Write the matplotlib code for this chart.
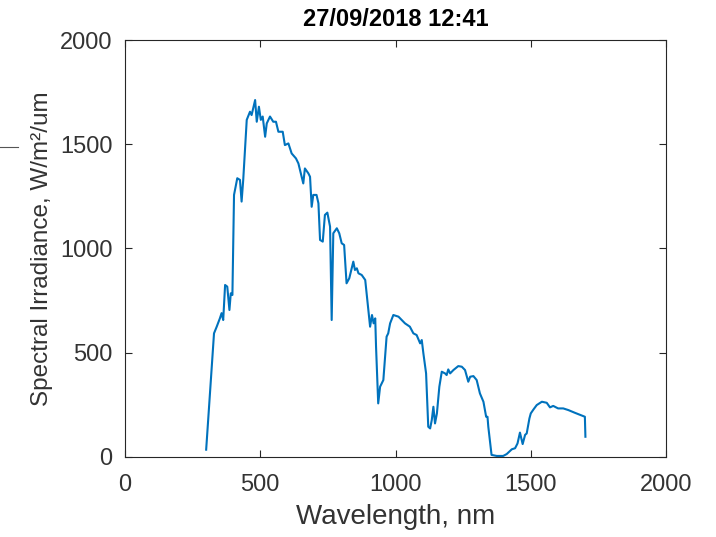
import matplotlib
matplotlib.use("Agg")
import matplotlib.pyplot as plt
from matplotlib.lines import Line2D

# Spectrum (wavelength in nm, irradiance in W/m2/um)
wavelength = [300, 329, 339, 351, 357, 363, 370, 378, 386, 391, 397, 403, 415, 425, 431, 437,
              450, 462, 468, 481, 487, 495, 502, 509, 518, 524, 536, 548, 558, 567, 583, 591,
              604, 616, 632, 641, 647, 659, 665, 678, 684, 690, 696, 708, 715, 721, 731, 739,
              748, 758, 764, 770, 783, 792, 801, 810, 819, 829, 844, 850, 857, 863, 875, 888,
              900, 906, 913, 919, 925, 928, 936, 943, 955, 967, 973, 980, 992, 1011, 1035,
              1053, 1066, 1078, 1091, 1097, 1103, 1113, 1121, 1128, 1134, 1140, 1146, 1153,
              1162, 1171, 1183, 1189, 1195, 1202, 1214, 1232, 1245, 1257, 1269, 1276, 1288,
              1300, 1312, 1325, 1335, 1340, 1343, 1355, 1374, 1398, 1411, 1430, 1442, 1451,
              1460, 1470, 1479, 1485, 1495, 1500, 1510, 1522, 1541, 1559, 1571, 1583, 1601,
              1620, 1639, 1663, 1700, 1702]
irradiance = [35, 593, 625, 666, 690, 657, 825, 817, 705, 785, 777, 1257, 1337, 1329, 1225, 1329,
              1617, 1656, 1640, 1712, 1608, 1680, 1617, 1633, 1536, 1600, 1633, 1608, 1608, 1560,
              1560, 1496, 1504, 1456, 1432, 1408, 1376, 1312, 1384, 1360, 1344, 1200, 1257, 1257,
              1217, 1041, 1033, 1161, 1172, 1105, 657, 1073, 1097, 1073, 1025, 1017, 833, 857,
              937, 897, 905, 881, 873, 849, 697, 625, 681, 641, 665, 529, 257, 337, 369, 577,
              593, 641, 681, 673, 641, 625, 593, 585, 545, 561, 497, 401, 145, 137, 177, 241,
              161, 209, 337, 409, 401, 393, 420, 401, 417, 436, 433, 417, 361, 385, 388, 369,
              305, 265, 193, 193, 145, 10, 5, 5, 14, 37, 42, 65, 117, 62, 106, 113, 185, 209,
              228, 249, 265, 260, 238, 245, 233, 233, 225, 212, 193, 97]

title = "27/09/2018 12:41"
xticks = [0, 500, 1000, 1500, 2000]
yticks = [0, 500, 1000, 1500, 2000]

plt.rcParams["font.family"] = ["Liberation Sans", "DejaVu Sans"]

fig = plt.figure(figsize=(7.16, 5.37), dpi=100)
ax = fig.add_axes([0.1746, 0.149, 0.7556, 0.7765])

ax.plot(wavelength, irradiance, color="#0072BD", lw=1.5)

ax.set_xlim(0, 2000)
ax.set_ylim(0, 2000)
ax.set_xticks(xticks)
ax.set_yticks(yticks)

axis_gray = "#262626"
text_gray = "#333333"
for side in ax.spines.values():
    side.set_color(axis_gray)
    side.set_linewidth(0.8)
ax.tick_params(direction="in", top=True, right=True, length=5, width=0.8,
               colors=axis_gray, labelcolor=text_gray, labelsize=17)
ax.tick_params(axis="x", pad=12)
ax.tick_params(axis="y", pad=9)

ax.set_title(title, fontsize=17, fontweight="bold", pad=10)
ax.set_xlabel("Wavelength, nm", fontsize=20, color=text_gray, labelpad=6)
ax.set_ylabel("Spectral Irradiance, W/m\u00b2/um", fontsize=17.5, color=text_gray, labelpad=5)

# small stray mark at the left edge of the reference
fig.add_artist(Line2D([0.0, 0.025], [1 - 147 / 537, 1 - 147 / 537], color="#555555", lw=0.8))

fig.savefig("out.png", dpi=100)
